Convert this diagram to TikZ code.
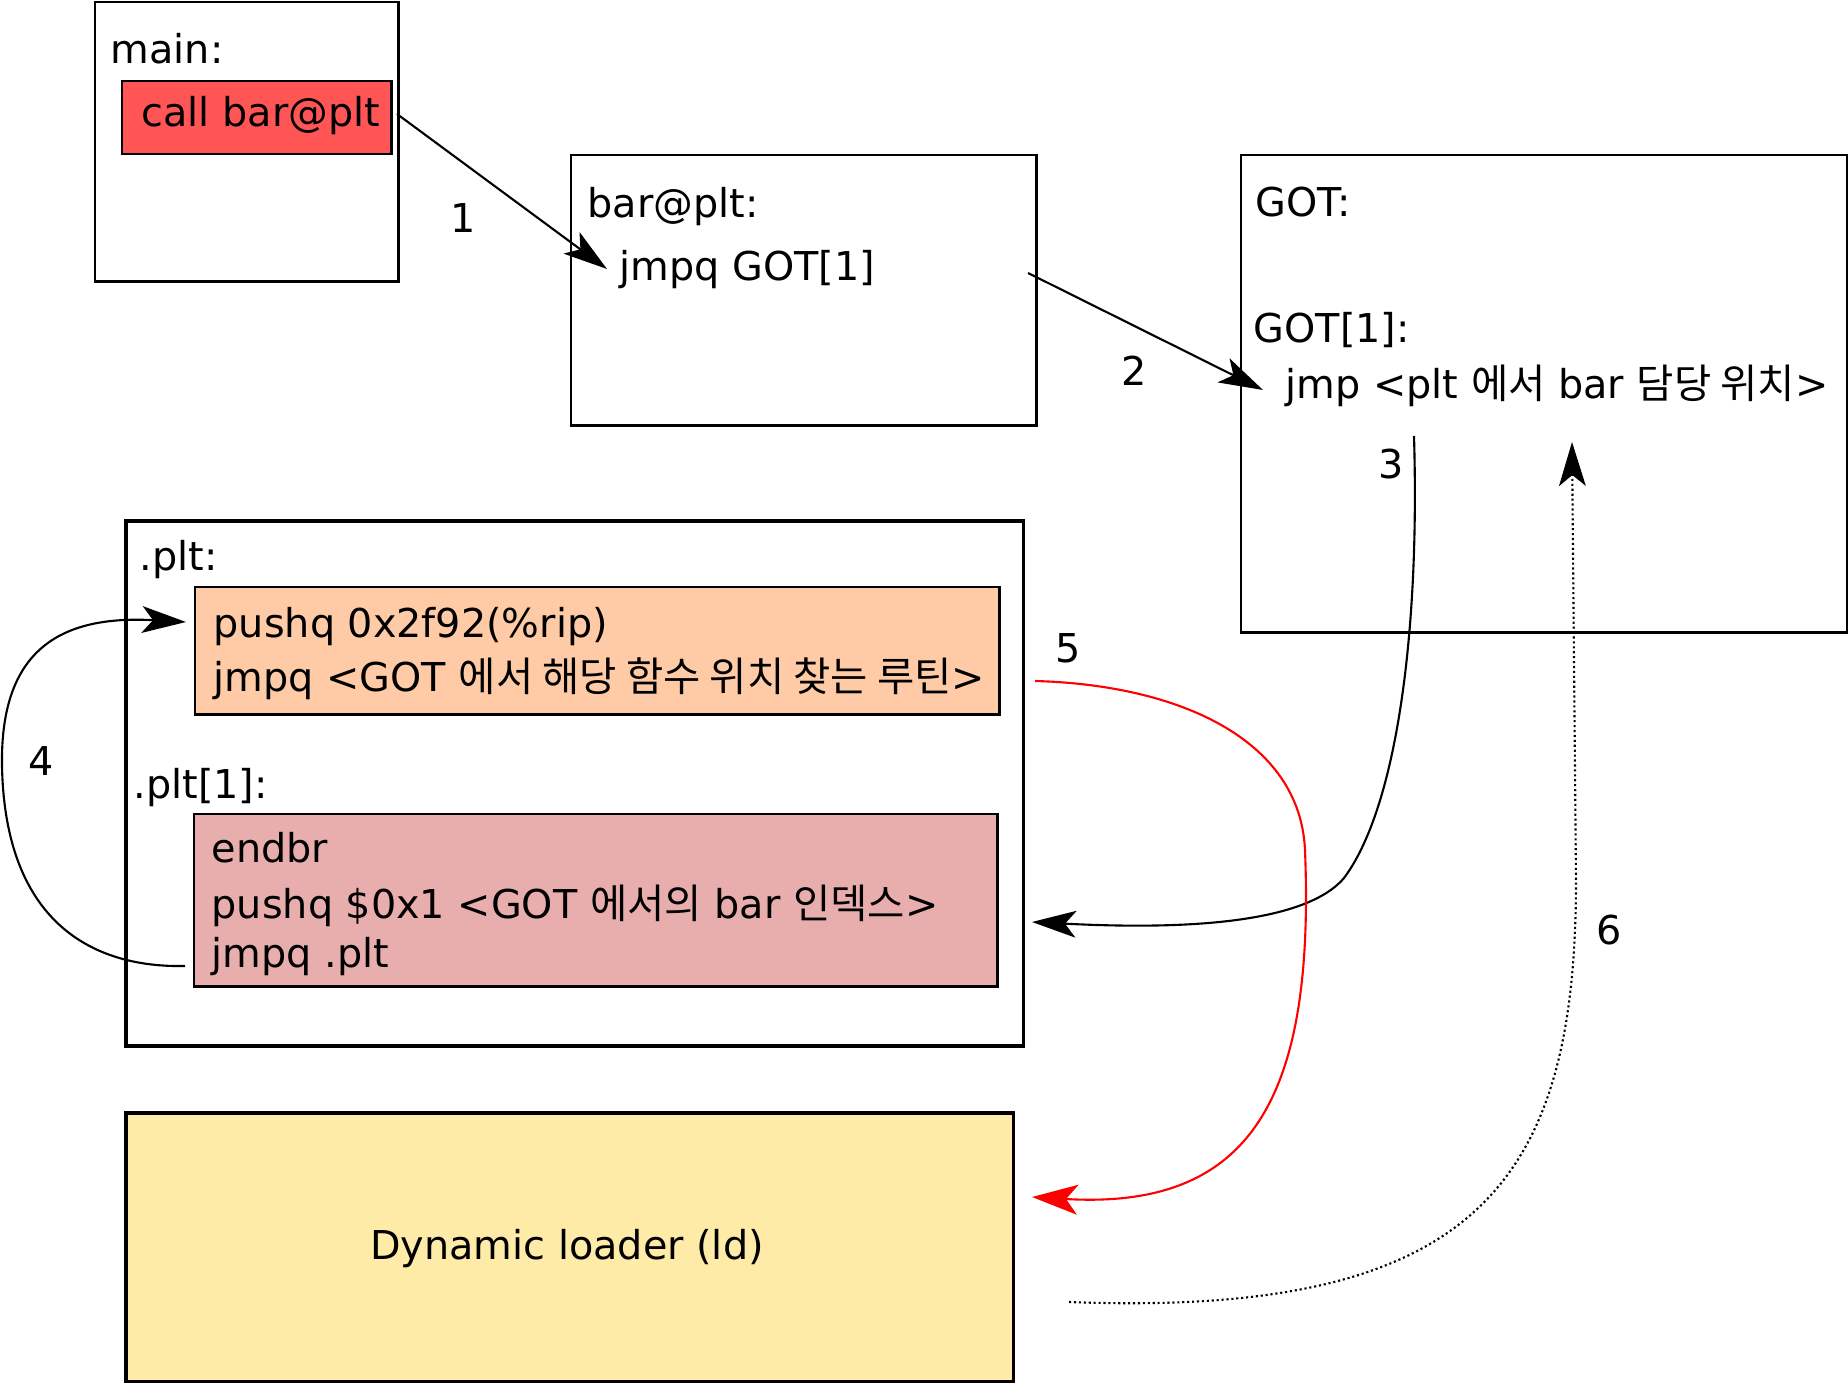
\documentclass[tikz,border=0pt]{standalone}
\usepackage{fontspec}
\setmainfont{DejaVu Sans}
\newfontfamily\kr{Noto Sans CJK KR}[Scale=1.02]
\usetikzlibrary{arrows.meta}
\definecolor{callred}{HTML}{FF5555}
\definecolor{peach}{HTML}{FECBA6}
\definecolor{rose}{HTML}{E8AEAE}
\definecolor{sand}{HTML}{FEEBA8}
\tikzset{
  box/.style={draw, line width=0.7pt, inner sep=0pt, anchor=north west},
  thickbox/.style={box, line width=1pt},
  txt/.style={inner sep=0pt, anchor=base west},
  num/.style={inner sep=0pt, anchor=base},
  conn/.style={line width=0.6pt, -{Stealth[length=12.5pt,width=7.6pt,inset=3.1pt]}},
}
\begin{document}
\begin{tikzpicture}[x=0.01cm,y=-0.01cm,every node/.append style={font=\fontsize{11.3}{13.6}\selectfont}]
\useasboundingbox (0,0) rectangle (1848,1383);

% boxes
\node[box, minimum width=3.03cm, minimum height=2.79cm] (main) at (94,1) {};
\node[box, fill=callred, minimum width=2.69cm, minimum height=0.73cm] (call) at (121,80) {};
\node[box, minimum width=4.65cm, minimum height=2.70cm] (barplt) at (570,154) {};
\node[box, minimum width=6.06cm, minimum height=4.77cm] (got) at (1240,154) {};
\node[thickbox, minimum width=8.97cm, minimum height=5.25cm] (plt) at (124,519) {};
\node[box, fill=peach, minimum width=8.04cm, minimum height=1.27cm] (plt0) at (194,586) {};
\node[box, fill=rose, minimum width=8.03cm, minimum height=1.72cm] (plt1) at (193,813) {};
\node[thickbox, fill=sand, minimum width=8.87cm, minimum height=2.69cm, anchor=north west] (ld) at (124,1111) {};
\node[inner sep=0pt] (ldtxt) at (567,1249) {Dynamic loader (ld)};

% texts
\node[txt] (tmain) at (110,64) {main:};
\node[txt] (tcall) at (141,127) {call bar@plt};
\node[txt] (tbar) at (587,218) {bar@plt:};
\node[txt] (tjmpq) at (619,281) {jmpq GOT[1]};
\node[txt] (tgot) at (1255,217) {GOT:};
\node[txt] (tgot1) at (1253,343) {GOT[1]:};
\node[txt] (tjmp) at (1285,399) {jmp <plt {\kr 에서} bar {\kr 담당 위치}>};
\node[txt] (tplt) at (139,571) {.plt:};
\node[txt] (tpush0) at (213,638) {pushq 0x2f92(\%rip)};
\node[txt] (tjmp0) at (213,692) {jmpq <GOT {\kr 에서 해당 함수 위치 찾는 루틴}>};
\node[txt] (tplt1) at (133,799) {.plt[1]:};
\node[txt] (tendbr) at (211,863) {endbr};
\node[txt] (tpush1) at (211,919) {pushq \$0x1 <GOT {\kr 에서의} bar {\kr 인덱스}>};
\node[txt] (tjmp1) at (211,968) {jmpq .plt};

% step numbers
\node[num] (n1) at (463,233) {1};
\node[num] (n2) at (1134,386) {2};
\node[num] (n3) at (1391,479) {3};
\node[num] (n4) at (41,776) {4};
\node[num] (n5) at (1068,663) {5};
\node[num] (n6) at (1609,945) {6};

% connector end points
\coordinate (a1s) at (397,114);
\coordinate (a1e) at (607,269);
\coordinate (a2s) at (1028,273);
\coordinate (a2e) at (1263,390);
\coordinate (a3s) at (1414,436);
\coordinate (a3m) at (1344,878);
\coordinate (a3e) at (1032,922);
\coordinate (a4s) at (185,966);
\coordinate (a4m) at (2,766);
\coordinate (a4e) at (186,622);
\coordinate (a5s) at (1035,681);
\coordinate (a5m) at (1305,850);
\coordinate (a5e) at (1032,1197);
\coordinate (a6s) at (1069,1302);
\coordinate (a6m) at (1576,880);
\coordinate (a6e) at (1572,442);

% connectors
\draw[conn] (a1s) -- (a1e);
\draw[conn] (a2s) -- (a2e);
\draw[conn] (a3s) .. controls (1420,640) and (1395,810) .. (a3m)
                  .. controls (1300,930) and (1150,928) .. (a3e);
\draw[conn] (a4s) .. controls (90,968) and (5,920) .. (a4m)
                  .. controls (0,650) and (60,615) .. (a4e);
\draw[conn, red, -{Stealth[length=13pt,width=8.5pt,inset=3.3pt]}] (a5s) .. controls (1180,685) and (1300,740) .. (a5m)
                  .. controls (1315,1100) and (1250,1210) .. (a5e);
\draw[conn, dash pattern=on 0.6pt off 0.8pt] (a6s) .. controls (1480,1318) and (1576,1180) .. (a6m) -- (a6e);
\end{tikzpicture}
\end{document}
